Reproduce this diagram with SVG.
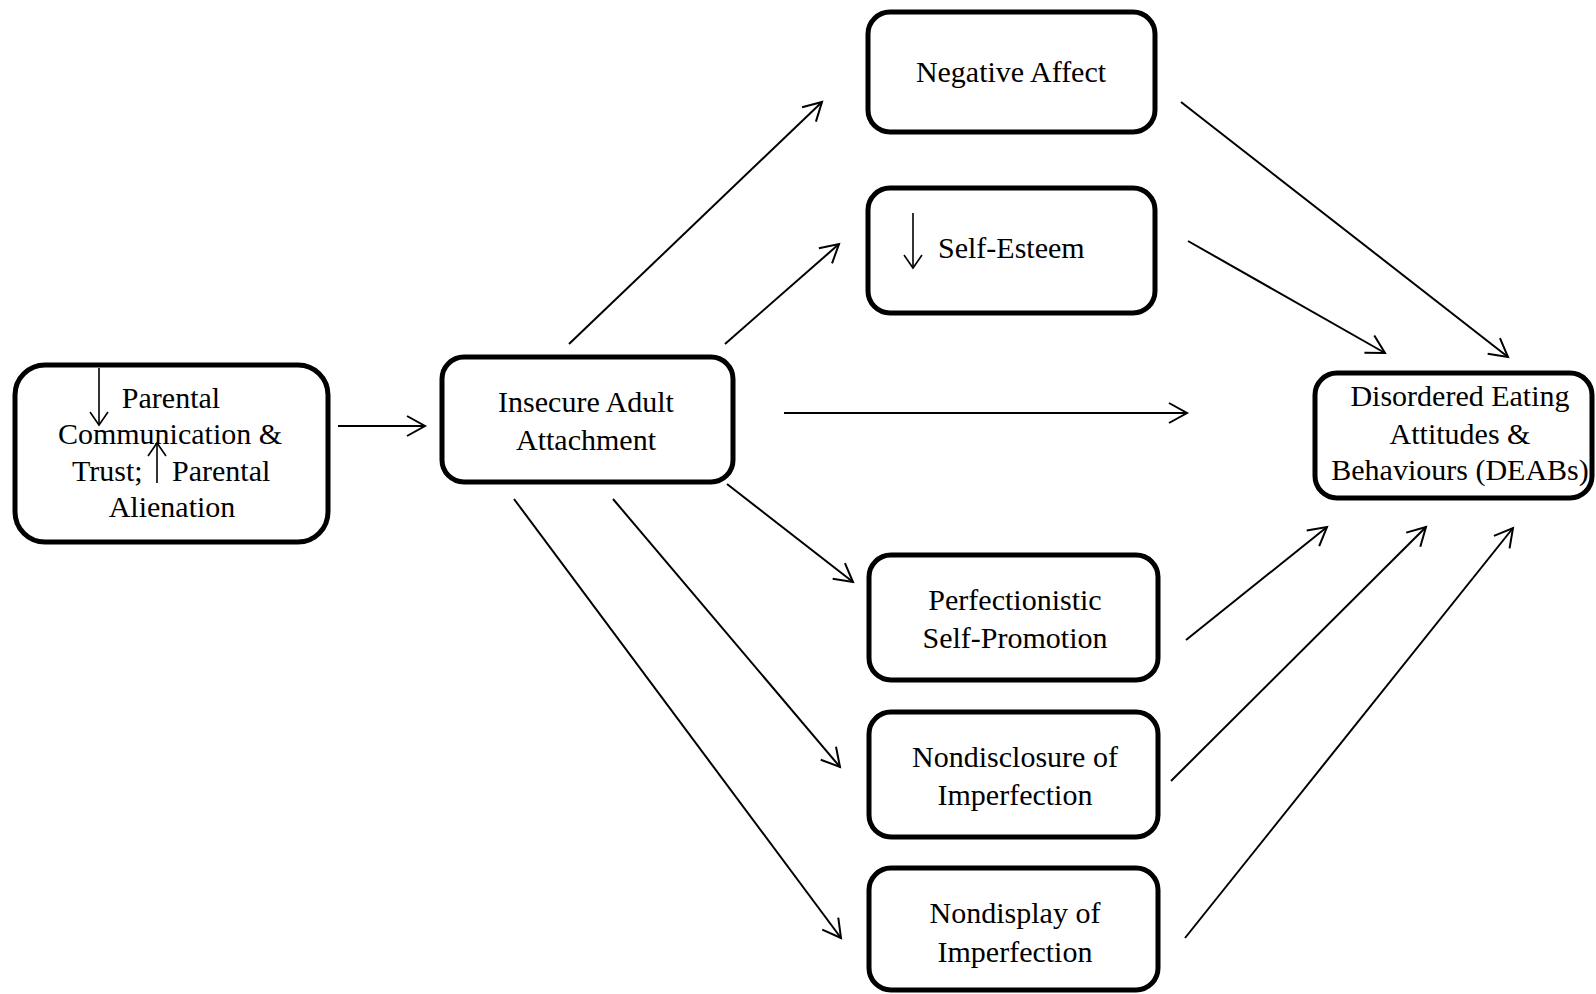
<svg xmlns="http://www.w3.org/2000/svg" width="1596" height="994" viewBox="0 0 1596 994">
<style>
.box{fill:#fff;stroke:#000;stroke-width:5}
.t{font-family:"Liberation Serif","Times New Roman",serif;font-size:30px;fill:#000;text-anchor:middle}
.tl{font-family:"Liberation Serif","Times New Roman",serif;font-size:30px;fill:#000}
.c{stroke:#000;stroke-width:2;fill:none}
.s{stroke:#000;stroke-width:1.6;fill:none}
</style>
<defs>
<marker id="ah" markerUnits="userSpaceOnUse" markerWidth="26" markerHeight="26" viewBox="-22 -13 26 26" refX="0" refY="0" orient="auto">
<path d="M-18,-10 L0,0 L-18,10" fill="none" stroke="#000" stroke-width="2"/>
</marker>
<marker id="sm" markerUnits="userSpaceOnUse" markerWidth="20" markerHeight="20" viewBox="-16 -10 20 20" refX="0" refY="0" orient="auto">
<path d="M-13,-9 L0,0 L-13,9" fill="none" stroke="#000" stroke-width="1.6"/>
</marker>
</defs>
<rect width="1596" height="994" fill="#fff"/>
<g id="connectors">
<line class="c" x1="338" y1="426" x2="425" y2="426" marker-end="url(#ah)"/>
<line class="c" x1="569" y1="344" x2="822" y2="102" marker-end="url(#ah)"/>
<line class="c" x1="725" y1="344" x2="839" y2="244" marker-end="url(#ah)"/>
<line class="c" x1="784" y1="413" x2="1187" y2="413" marker-end="url(#ah)"/>
<line class="c" x1="727" y1="484" x2="853" y2="582" marker-end="url(#ah)"/>
<line class="c" x1="613" y1="499" x2="840" y2="767" marker-end="url(#ah)"/>
<line class="c" x1="514" y1="499" x2="841" y2="938" marker-end="url(#ah)"/>
<line class="c" x1="1181" y1="102" x2="1508" y2="357" marker-end="url(#ah)"/>
<line class="c" x1="1188" y1="241" x2="1385" y2="353" marker-end="url(#ah)"/>
<line class="c" x1="1186" y1="640" x2="1327" y2="527" marker-end="url(#ah)"/>
<line class="c" x1="1171" y1="781" x2="1426" y2="527" marker-end="url(#ah)"/>
<line class="c" x1="1185" y1="938" x2="1513" y2="528" marker-end="url(#ah)"/>
</g>
<g id="parental">
<rect class="box" x="15" y="365" width="313" height="177" rx="30"/>
<line class="s" x1="99" y1="368" x2="99" y2="425" marker-end="url(#sm)"/>
<line class="s" x1="157" y1="483" x2="157" y2="443" marker-end="url(#sm)"/>
<text class="t" x="171" y="408">Parental</text>
<text class="t" x="170" y="444">Communication &amp;</text>
<text class="tl" x="72" y="481">Trust;</text>
<text class="tl" x="172" y="481">Parental</text>
<text class="t" x="172" y="517">Alienation</text>
</g>
<g id="insecure">
<rect class="box" x="442" y="357" width="291" height="125" rx="22"/>
<text class="t" x="586" y="412">Insecure Adult</text>
<text class="t" x="586" y="450">Attachment</text>
</g>
<g id="negative">
<rect class="box" x="868" y="12" width="287" height="120" rx="22"/>
<text class="t" x="1011" y="82">Negative Affect</text>
</g>
<g id="selfesteem">
<rect class="box" x="868" y="188" width="287" height="125" rx="22"/>
<line class="s" x1="913" y1="213" x2="913" y2="268" marker-end="url(#sm)"/>
<text class="tl" x="938" y="258">Self-Esteem</text>
</g>
<g id="perfectionistic">
<rect class="box" x="869" y="555" width="289" height="125" rx="22"/>
<text class="t" x="1015" y="610">Perfectionistic</text>
<text class="t" x="1015" y="648">Self-Promotion</text>
</g>
<g id="nondisclosure">
<rect class="box" x="869" y="712" width="289" height="125" rx="22"/>
<text class="t" x="1015" y="767">Nondisclosure of</text>
<text class="t" x="1015" y="805">Imperfection</text>
</g>
<g id="nondisplay">
<rect class="box" x="869" y="868" width="289" height="122" rx="22"/>
<text class="t" x="1015" y="923">Nondisplay of</text>
<text class="t" x="1015" y="962">Imperfection</text>
</g>
<g id="deabs">
<rect class="box" x="1315" y="373" width="277" height="125" rx="22"/>
<text class="t" x="1460" y="406">Disordered Eating</text>
<text class="t" x="1460" y="444">Attitudes &amp;</text>
<text class="t" x="1460" y="480">Behaviours (DEABs)</text>
</g>
</svg>
